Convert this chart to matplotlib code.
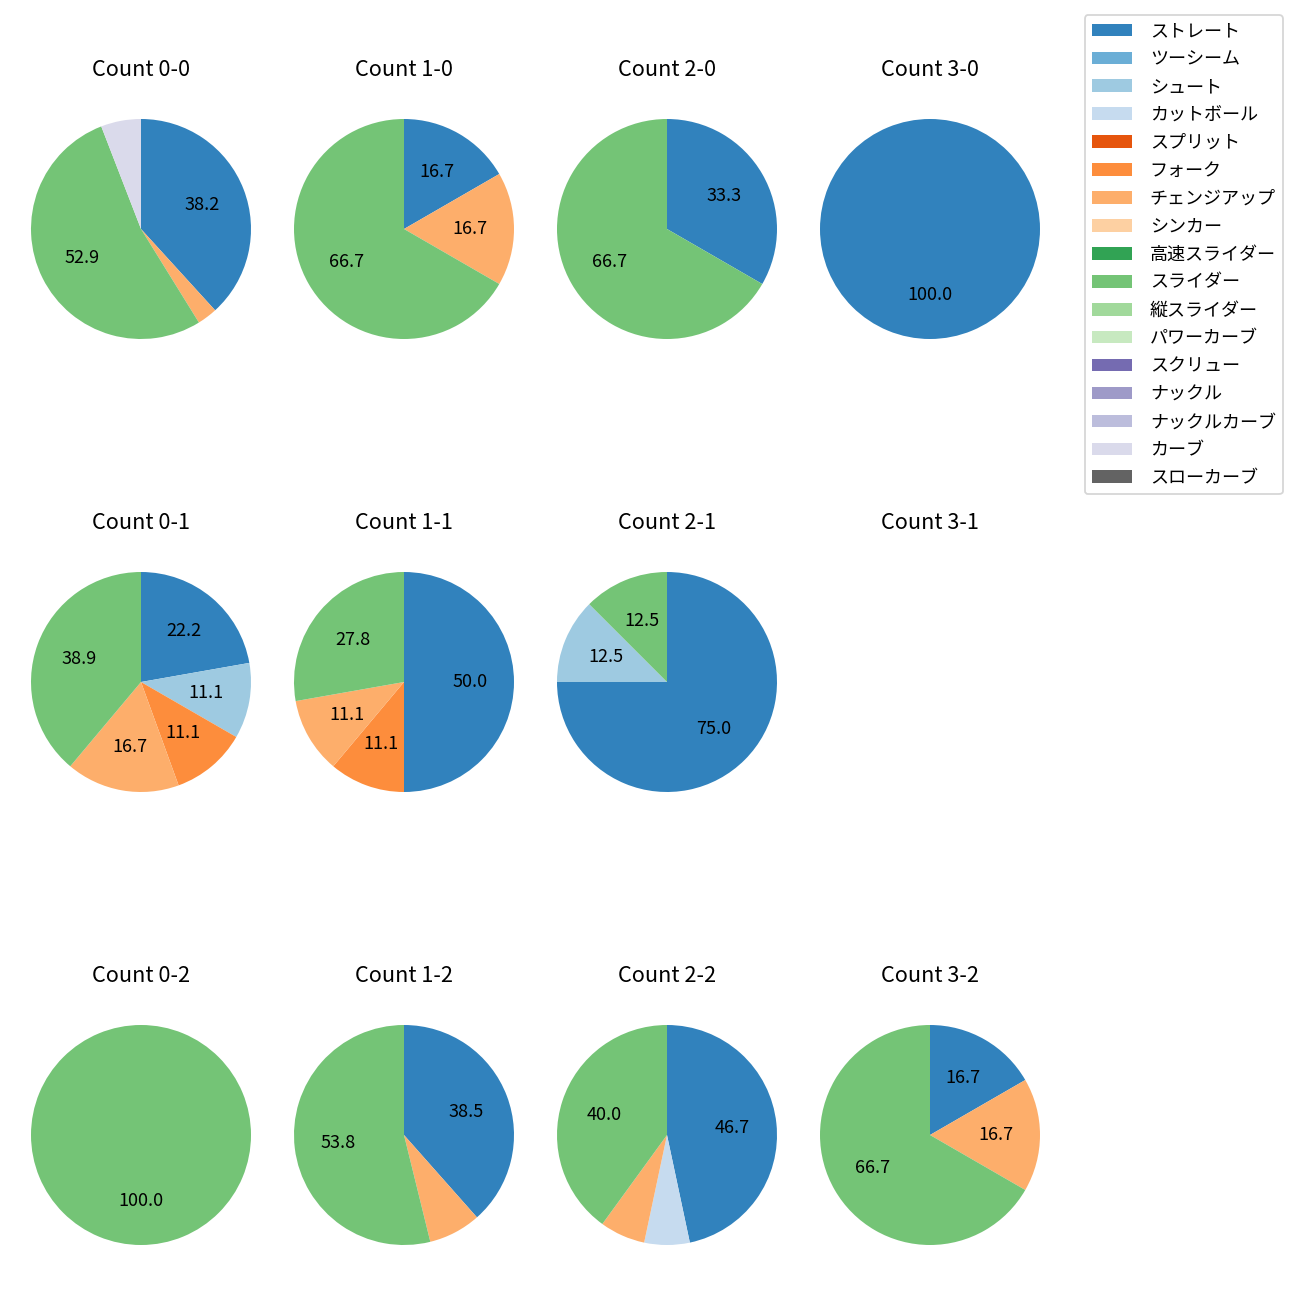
import matplotlib
matplotlib.use("Agg")
import matplotlib.pyplot as plt
from matplotlib.patches import Patch

plt.rcParams['font.family'] = ['Noto Sans CJK JP', 'DejaVu Sans']

pitch_types = ['ストレート', 'ツーシーム', 'シュート', 'カットボール', 'スプリット', 'フォーク',
               'チェンジアップ', 'シンカー', '高速スライダー', 'スライダー', '縦スライダー',
               'パワーカーブ', 'スクリュー', 'ナックル', 'ナックルカーブ', 'カーブ', 'スローカーブ']
pitch_colors = ['#3182bd', '#6baed6', '#9ecae1', '#c6dbef', '#e6550d', '#fd8d3c',
                '#fdae6b', '#fdd0a2', '#31a354', '#74c476', '#a1d99b', '#c7e9c0',
                '#756bb1', '#9e9ac8', '#bcbddc', '#dadaeb', '#636363']

# pitch counts per ball-strike count (only non-zero types listed)
count_0_0 = {'ストレート': 13, 'チェンジアップ': 1, 'スライダー': 18, 'カーブ': 2}
count_1_0 = {'ストレート': 1, 'チェンジアップ': 1, 'スライダー': 4}
count_2_0 = {'ストレート': 1, 'スライダー': 2}
count_3_0 = {'ストレート': 1}
count_0_1 = {'ストレート': 4, 'シュート': 2, 'フォーク': 2, 'チェンジアップ': 3, 'スライダー': 7}
count_1_1 = {'ストレート': 9, 'フォーク': 2, 'チェンジアップ': 2, 'スライダー': 5}
count_2_1 = {'ストレート': 6, 'シュート': 1, 'スライダー': 1}
count_3_1 = {}
count_0_2 = {'スライダー': 1}
count_1_2 = {'ストレート': 5, 'チェンジアップ': 1, 'スライダー': 7}
count_2_2 = {'ストレート': 7, 'カットボール': 1, 'チェンジアップ': 1, 'スライダー': 6}
count_3_2 = {'ストレート': 1, 'チェンジアップ': 1, 'スライダー': 4}

grid = [
    [('0-0', count_0_0), ('1-0', count_1_0), ('2-0', count_2_0), ('3-0', count_3_0)],
    [('0-1', count_0_1), ('1-1', count_1_1), ('2-1', count_2_1), ('3-1', count_3_1)],
    [('0-2', count_0_2), ('1-2', count_1_2), ('2-2', count_2_2), ('3-2', count_3_2)],
]

W = H = 1300
DPI = 130
fig = plt.figure(figsize=(W / DPI, H / DPI), dpi=DPI)
color_map = dict(zip(pitch_types, pitch_colors))

box = 275
for r, row in enumerate(grid):
    for c, (label, data) in enumerate(row):
        cx = 141 + 263 * c
        cy = 229 + 453 * r
        ax = fig.add_axes([(cx - box / 2) / W, 1 - (cy + box / 2) / H, box / W, box / H])
        ax.set_title(f'Count {label}', fontsize=12, pad=8.5)
        if data:
            names = [p for p in pitch_types if p in data]
            vals = [data[p] for p in names]
            ax.pie(vals, colors=[color_map[p] for p in names], startangle=90,
                   counterclock=False,
                   autopct=lambda p: f'{p:.1f}' if p >= 10 else '',
                   textprops={'fontsize': 10})
        ax.set_xlim(-1.25, 1.25)
        ax.set_ylim(-1.25, 1.25)
        ax.set_aspect('equal')
        ax.axis('off')

handles = [Patch(facecolor=col, label=name) for name, col in zip(pitch_types, pitch_colors)]
fig.legend(handles=handles, loc='upper right', bbox_to_anchor=(1283 / W, 1 - 15 / H),
           borderaxespad=0, fontsize=10, labelspacing=0.55,
           handlelength=2.2, handletextpad=1.0)

fig.savefig('out.png', dpi=DPI)
